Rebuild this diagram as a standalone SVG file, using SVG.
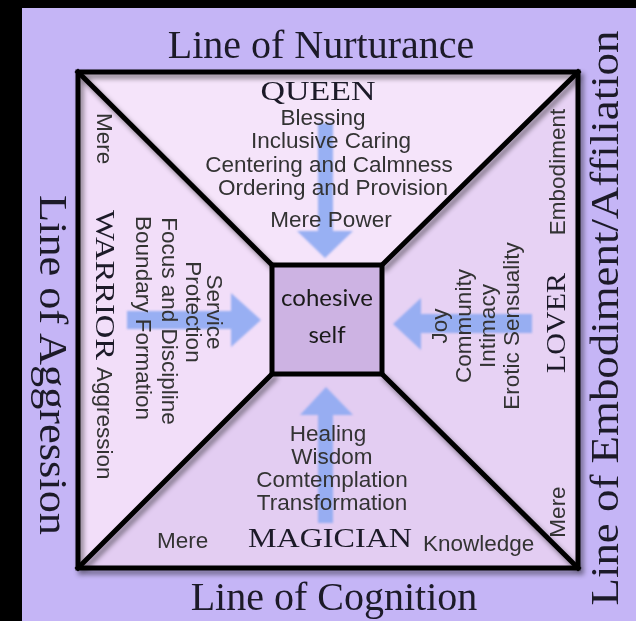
<svg xmlns="http://www.w3.org/2000/svg" width="636" height="621" viewBox="0 0 636 621">
<defs>
<filter id="shadow" x="-10%" y="-10%" width="120%" height="120%">
<feGaussianBlur in="SourceAlpha" stdDeviation="2.5"/>
<feOffset dx="3" dy="4" result="b"/>
<feFlood flood-color="#000" flood-opacity="0.45"/>
<feComposite in2="b" operator="in"/>
<feMerge><feMergeNode/><feMergeNode in="SourceGraphic"/></feMerge>
</filter>
<filter id="soft" x="-10%" y="-10%" width="120%" height="120%"><feGaussianBlur stdDeviation="0.9"/></filter>
</defs>
<style>
.sans{font-family:"Liberation Sans",Arial,sans-serif;font-size:22.5px;fill:#333;}
.serif{font-family:"Liberation Serif","Times New Roman",serif;fill:#1c1a28;}
.title{font-size:40px;}
.arch{font-size:27px;}
.frame{fill:none;stroke:#000;stroke-width:5;stroke-linejoin:miter;stroke-linecap:square;}
.arrow{fill:#8eaaf2;opacity:0.9;}
.core{font-family:Lato,"Open Sans",sans-serif;font-size:24px;fill:#1a1a1a;}
</style>
<g id="background">
<rect x="0" y="0" width="636" height="621" fill="#c5b5f6"/>
<rect x="0" y="0" width="22" height="621" fill="#000"/>
<rect x="0" y="0" width="636" height="8" fill="#000"/>
</g>
<g id="regions">
<polygon points="78,72 578,72 382,265 272,265" fill="#f5e4fa"/>
<polygon points="78,72 272,265 272,374 78,568" fill="#f2def9"/>
<polygon points="578,72 578,568 382,374 382,265" fill="#e7d2f4"/>
<polygon points="78,568 578,568 382,374 272,374" fill="#e3cdf2"/>
</g>
<g id="connectors" filter="url(#soft)">
<path class="arrow" d="M318,123 H333 V231 H353 L325,258 L297,231 H318 Z"/>
<path class="arrow" d="M127,311 H231 V293 L261,320 L231,347 V329 H127 Z"/>
<path class="arrow" d="M532,314 H421 V298 L393,324 L421,350 V333 H532 Z"/>
<path class="arrow" d="M318,523 V415 H300 L326,387 L353,415 H333 V523 Z"/>
</g>
<g id="frame" filter="url(#shadow)">
<rect class="frame" x="78" y="72" width="500" height="496"/>
<line class="frame" x1="78" y1="72" x2="272" y2="265"/>
<line class="frame" x1="578" y1="72" x2="382" y2="265"/>
<line class="frame" x1="78" y1="568" x2="272" y2="374"/>
<line class="frame" x1="578" y1="568" x2="382" y2="374"/>
</g>
<g id="center">
<rect x="272" y="265" width="110" height="109" fill="#cdb3e3" stroke="#000" stroke-width="5"/>
<text class="core" x="327" y="306" text-anchor="middle">cohesive</text>
<text class="core" x="327" y="343" text-anchor="middle">self</text>
</g>
<g id="queen">
<text class="serif arch" x="318" y="100" text-anchor="middle" textLength="115" lengthAdjust="spacingAndGlyphs">QUEEN</text>
<text class="sans" x="323" y="125" text-anchor="middle">Blessing</text>
<text class="sans" x="331" y="148" text-anchor="middle">Inclusive Caring</text>
<text class="sans" x="329" y="172" text-anchor="middle">Centering and Calmness</text>
<text class="sans" x="333" y="195" text-anchor="middle">Ordering and Provision</text>
<text class="sans" x="331" y="227" text-anchor="middle">Mere Power</text>
</g>
<g id="warrior">
<text class="sans" transform="translate(207,312) rotate(90)" text-anchor="middle">Service</text>
<text class="sans" transform="translate(186,312) rotate(90)" text-anchor="middle">Protection</text>
<text class="sans" transform="translate(162,321) rotate(90)" text-anchor="middle">Focus and Discipline</text>
<text class="sans" transform="translate(136,318) rotate(90)" text-anchor="middle">Boundary Formation</text>
<text class="sans" transform="translate(97,113) rotate(90)">Mere</text>
<text class="serif arch" transform="translate(96,210) rotate(90)" textLength="150" lengthAdjust="spacingAndGlyphs">WARRIOR</text>
<text class="sans" transform="translate(97,367) rotate(90)">Aggression</text>
</g>
<g id="lover">
<text class="sans" transform="translate(447,326) rotate(-90)" text-anchor="middle">Joy</text>
<text class="sans" transform="translate(471,326) rotate(-90)" text-anchor="middle">Community</text>
<text class="sans" transform="translate(495,326) rotate(-90)" text-anchor="middle">Intimacy</text>
<text class="sans" transform="translate(519,326) rotate(-90)" text-anchor="middle">Erotic Sensuality</text>
<text class="sans" transform="translate(565,512) rotate(-90)" text-anchor="middle">Mere</text>
<text class="serif arch" transform="translate(565,323) rotate(-90)" text-anchor="middle" textLength="100" lengthAdjust="spacingAndGlyphs">LOVER</text>
<text class="sans" transform="translate(565,172) rotate(-90)" text-anchor="middle">Embodiment</text>
</g>
<g id="magician">
<text class="sans" x="328" y="441" text-anchor="middle">Healing</text>
<text class="sans" x="332" y="464" text-anchor="middle">Wisdom</text>
<text class="sans" x="332" y="487" text-anchor="middle">Comtemplation</text>
<text class="sans" x="332" y="510" text-anchor="middle">Transformation</text>
<text class="sans" x="157" y="548">Mere</text>
<text class="serif arch" x="248" y="547" textLength="164" lengthAdjust="spacingAndGlyphs">MAGICIAN</text>
<text class="sans" x="423" y="551">Knowledge</text>
</g>
<g id="lines">
<text class="serif title" x="321" y="58" text-anchor="middle">Line of Nurturance</text>
<text class="serif title" x="334" y="610" text-anchor="middle">Line of Cognition</text>
<text class="serif title" transform="translate(40,365) rotate(90)" text-anchor="middle" textLength="340" lengthAdjust="spacingAndGlyphs">Line of Aggression</text>
<text class="serif title" transform="translate(618,318) rotate(-90)" text-anchor="middle" textLength="575" lengthAdjust="spacingAndGlyphs">Line of Embodiment/Affiliation</text>
</g>
</svg>
